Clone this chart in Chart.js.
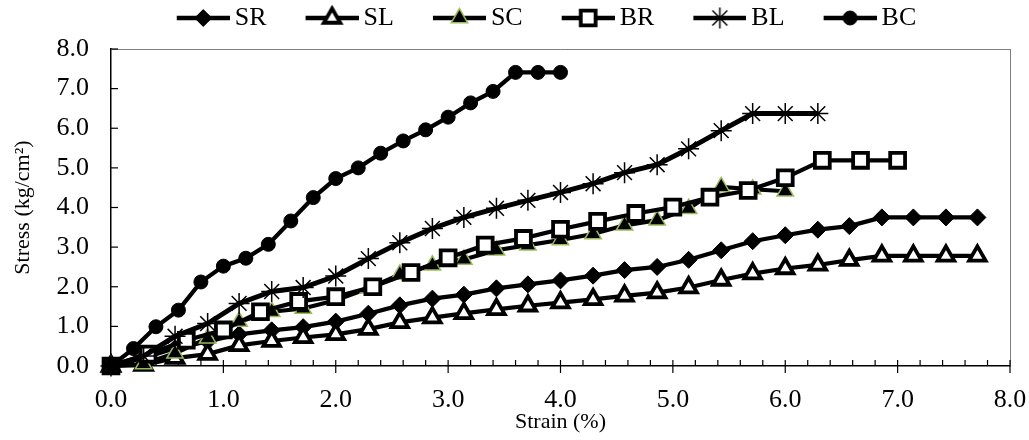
<!DOCTYPE html>
<html>
<head>
<meta charset="utf-8">
<script src="https://cdn.jsdelivr.net/npm/chart.js@4.4.1/dist/chart.umd.min.js"></script>
<style>
  html, body { margin: 0; padding: 0; background: #fff; }
  #wrap { width: 1029px; height: 440px; }
</style>
</head>
<body>
<div id="wrap"><canvas id="chart" width="1029" height="440"></canvas></div>
<script>
// ---- Daten ----

// Dehnung (%) – Reihen S* und BL
const STRAIN_S = [0, 0.29, 0.57, 0.86, 1.14, 1.43, 1.71, 2.0, 2.29, 2.57, 2.86, 3.14, 3.43, 3.71,
                  4.0, 4.29, 4.57, 4.86, 5.14, 5.43, 5.71, 6.0, 6.29, 6.57, 6.86, 7.14, 7.43, 7.71];
const STRAIN_BR = [0, 0.33, 0.67, 1.0, 1.33, 1.67, 2.0, 2.33, 2.67, 3.0, 3.33, 3.67, 4.0, 4.33,
                   4.67, 5.0, 5.33, 5.67, 6.0, 6.33, 6.67, 7.0];
const STRAIN_BC = [0, 0.2, 0.4, 0.6, 0.8, 1.0, 1.2, 1.4, 1.6, 1.8, 2.0, 2.2, 2.4, 2.6, 2.8,
                   3.0, 3.2, 3.4, 3.6, 3.8, 4.0];

// Spannung (kg/cm²)
const SR = [0, 0.2, 0.45, 0.62, 0.8, 0.9, 0.98, 1.12, 1.32, 1.53, 1.7, 1.8, 1.96, 2.06,
            2.16, 2.28, 2.42, 2.5, 2.68, 2.92, 3.15, 3.3, 3.44, 3.53, 3.75, 3.75, 3.75, 3.75];
const SL = [0, 0.02, 0.2, 0.3, 0.52, 0.63, 0.72, 0.8, 0.93, 1.1, 1.22, 1.33, 1.43, 1.52,
            1.6, 1.68, 1.77, 1.85, 1.98, 2.17, 2.33, 2.46, 2.55, 2.67, 2.78, 2.78, 2.78, 2.78];
const SC = [0, 0.05, 0.32, 0.7, 1.12, 1.37, 1.45, 1.66, 1.96, 2.31, 2.54, 2.69, 2.92, 3.05,
            3.18, 3.33, 3.55, 3.68, 3.97, 4.52, 4.46, 4.41];
const BR = [0, 0.3, 0.65, 0.91, 1.37, 1.63, 1.75, 2.0, 2.36, 2.73, 3.05, 3.22, 3.45, 3.65,
            3.85, 4.01, 4.26, 4.43, 4.75, 5.19, 5.19, 5.19];
const BL = [0, 0.25, 0.75, 1.07, 1.58, 1.88, 1.98, 2.27, 2.71, 3.11, 3.47, 3.75, 3.98, 4.18,
            4.38, 4.6, 4.88, 5.08, 5.48, 5.94, 6.37, 6.37, 6.37];
const BC = [0, 0.44, 0.99, 1.41, 2.12, 2.52, 2.72, 3.07, 3.66, 4.25, 4.73, 5.0, 5.37, 5.68,
            5.96, 6.28, 6.64, 6.93, 7.41, 7.41, 7.41];

const X_TITLE = 'Strain (%)';
const Y_TITLE = 'Stress (kg/cm²)';

const FONT = "'Liberation Serif', 'Times New Roman', serif";
const GREEN = '#9bbb59';

// Markierungen je Reihe
const MARKERS = {
  SR: { pointStyle: 'rectRot',  radius: 8.5, bg: '#000', border: '#000', bw: 1 },
  SL: { pointStyle: 'triangle', radius: 9.5, bg: '#fff', border: '#000', bw: 3.8 },
  SC: { pointStyle: 'triangle', radius: 9.5, bg: '#000', border: GREEN,  bw: 1.5 },
  BR: { pointStyle: 'rect',     radius: 10.5, bg: '#fff', border: '#000', bw: 3.8 },
  BL: { pointStyle: 'star',     radius: 10.5, bg: '#000', border: '#000', bw: 1.5 },
  BC: { pointStyle: 'circle',   radius: 7,   bg: '#000', border: '#000', bw: 1 },
};

function pts(xs, ys) {
  return ys.map((y, i) => ({ x: xs[i], y }));
}

function makeDataset(label, xs, ys) {
  const m = MARKERS[label];
  return {
    label,
    data: pts(xs, ys),
    borderColor: '#000',
    borderWidth: label === 'BL' ? 5 : 4.2,
    tension: 0,
    pointStyle: m.pointStyle,
    pointRadius: m.radius,
    pointHoverRadius: m.radius,
    pointBackgroundColor: m.bg,
    pointBorderColor: m.border,
    pointBorderWidth: m.bw,
    clip: false,
  };
}

// Excel zeichnet spätere Reihen oben -> order absteigend
const datasets = [
  makeDataset('SR', STRAIN_S, SR),
  makeDataset('SL', STRAIN_S, SL),
  makeDataset('SC', STRAIN_S, SC),
  makeDataset('BR', STRAIN_BR, BR),
  makeDataset('BL', STRAIN_S, BL),
  makeDataset('BC', STRAIN_BC, BC),
].map((d, i, arr) => ({ ...d, order: arr.length - i }));

// ---- Legendensymbole: Linie mit Marker ----
const LEG_BOX = 80;           // reservierte Breite je Symbol
const LEG_W = LEG_BOX + 16;   // Bildbreite (Linie endet kurz vor dem Text)

function legendIcon(m) {
  const c = document.createElement('canvas');
  c.width = LEG_W; c.height = 28;
  const g = c.getContext('2d');
  g.strokeStyle = '#000';
  g.lineWidth = 4.5;
  g.beginPath(); g.moveTo(LEG_W - 53, 14); g.lineTo(LEG_W, 14); g.stroke();
  g.fillStyle = m.bg;
  g.strokeStyle = m.border;
  g.lineWidth = m.bw;
  Chart.helpers.drawPoint(g, { pointStyle: m.pointStyle, radius: m.radius, borderWidth: m.bw }, LEG_W - 26.5, 14);
  return c;
}

// ---- Achsenstriche (innen) und Rahmen ----
const axisTicks = {
  id: 'axisTicks',
  beforeDatasetsDraw(chart) {
    const { ctx, chartArea: a, scales: { x, y } } = chart;
    const seg = (x1, y1, x2, y2) => { ctx.beginPath(); ctx.moveTo(x1, y1); ctx.lineTo(x2, y2); ctx.stroke(); };
    ctx.save();
    ctx.strokeStyle = '#7f7f7f';
    ctx.lineWidth = 1;
    seg(a.left, a.top + 0.5, a.right + 0.5, a.top + 0.5);
    seg(a.right + 0.5, a.top, a.right + 0.5, a.bottom);
    ctx.strokeStyle = '#000';
    ctx.lineWidth = 1.2;
    for (let v = 1; v <= 8; v++) {
      const py = y.getPixelForValue(v);
      seg(a.left, py, a.left + 7, py);
    }
    for (let v = 0; v <= 8; v++) {
      const px = x.getPixelForValue(v);
      seg(px, a.bottom - 6, px, a.bottom + 7);
    }
    for (let k = 1; k < 40; k++) {
      if (k % 5 === 0) continue;
      const px = x.getPixelForValue(k / 5);
      seg(px, a.bottom - 6, px, a.bottom);
    }
    ctx.restore();
  },
};

// Legende höher machen (Zeichenfläche beginnt bei y≈48) und etwas nach rechts rücken
const legendSpacing = {
  id: 'legendSpacing',
  beforeInit(chart) {
    const fit = chart.legend.fit;
    chart.legend.fit = function () {
      fit.bind(chart.legend)();
      this.height += 8;
    };
  },
  afterLayout(chart) {
    chart.legend.left += 22;
    chart.legend.right += 22;
  },
};

const ICONS = datasets.map(d => legendIcon(MARKERS[d.label]));

new Chart(document.getElementById('chart'), {
  type: 'line',
  data: { datasets },
  options: {
    responsive: false,
    animation: false,
    layout: { padding: { left: 4, right: 19, top: 1, bottom: 4 } },
    plugins: {
      tooltip: { enabled: false },
      legend: {
        position: 'top',
        labels: {
          usePointStyle: true,
          pointStyleWidth: LEG_BOX,
          padding: 4,
          color: '#000',
          font: { family: FONT, size: 26 },
          generateLabels: chart => chart.data.datasets.map((ds, i) => ({
            text: ds.label,
            pointStyle: ICONS[i],
            fillStyle: '#000',
            strokeStyle: '#000',
            lineWidth: 0,
            fontColor: '#000',
            hidden: false,
            datasetIndex: i,
          })),
        },
      },
    },
    scales: {
      x: {
        type: 'linear',
        min: 0,
        max: 8,
        grid: { display: false, drawTicks: false },
        border: { display: true, color: '#000', width: 1.5 },
        ticks: {
          stepSize: 1,
          padding: 19,
          color: '#000',
          font: { family: FONT, size: 26 },
          callback: v => v.toFixed(1),
        },
        title: {
          display: true,
          text: X_TITLE,
          color: '#000',
          font: { family: FONT, size: 22 },
          padding: { top: 0, bottom: 1 },
        },
        afterFit: s => {
          s.height = 70;
          s.paddingLeft = 0;
          s.paddingRight = 0;
        },
      },
      y: {
        min: 0,
        max: 8,
        grid: { display: false, drawTicks: false },
        border: { display: true, color: '#000', width: 1.5 },
        ticks: {
          stepSize: 1,
          padding: 22,
          color: '#000',
          font: { family: FONT, size: 26 },
          callback: v => v.toFixed(1),
        },
        title: {
          display: true,
          text: Y_TITLE,
          color: '#000',
          font: { family: FONT, size: 22 },
          padding: { top: 6, bottom: 1 },
        },
        afterFit: s => { s.width = 107; },
      },
    },
  },
  plugins: [axisTicks, legendSpacing],
});
</script>
</body>
</html>
